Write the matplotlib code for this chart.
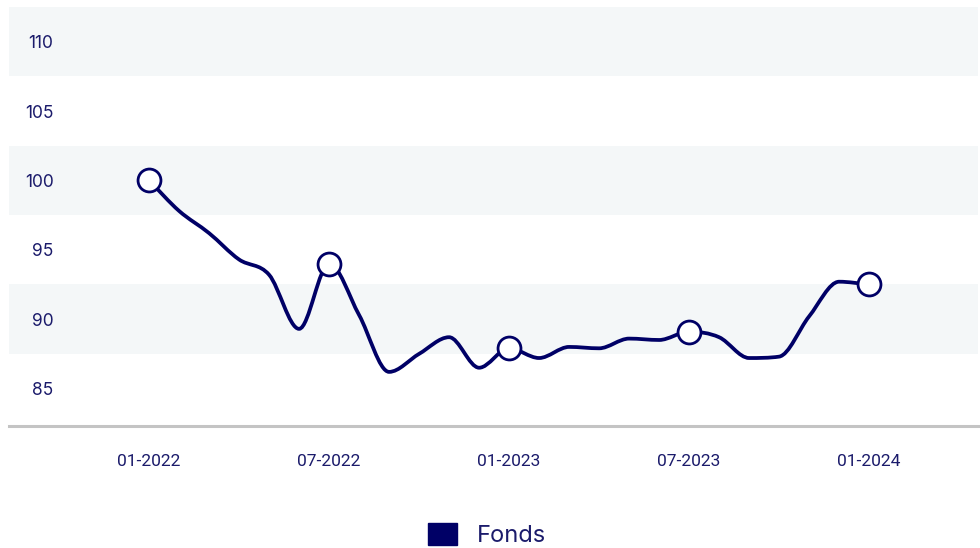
import numpy as np
import matplotlib
matplotlib.use("Agg")
import matplotlib.pyplot as plt
from matplotlib.path import Path
from matplotlib.patches import PathPatch, Patch

# === DADOS ===
mois = list(range(25))  # 01-2022 .. 01-2024, mensal
fonds = [100.0, 97.8, 96.2, 94.3, 93.2, 89.3, 94.0, 90.3, 86.2, 87.5, 88.7, 86.5,
         87.9, 87.2, 88.0, 87.9, 88.6, 88.5, 89.1, 88.7, 87.2, 87.3, 90.2, 92.7, 92.5]
marq_idx = [0, 6, 12, 18, 24]
tick_pos = [0, 6, 12, 18, 24]
tick_lbl = ["01-2022", "07-2022", "01-2023", "07-2023", "01-2024"]
y_ticks = [85, 90, 95, 100, 105, 110]
bandes = [(87.5, 92.5), (97.5, 102.5), (107.5, 112.5)]

NAVY = "#000066"
TXT = "#1b1b6b"


def tangentes_monotones(x, y):
    """Tangentes Fritsch-Carlson (interpolação monotona, como no chart.js)."""
    x = np.asarray(x, float)
    y = np.asarray(y, float)
    d = np.diff(y) / np.diff(x)
    m = np.zeros_like(y)
    m[0], m[-1] = d[0], d[-1]
    for i in range(1, len(y) - 1):
        if d[i - 1] * d[i] <= 0:
            m[i] = 0
        else:
            m[i] = (d[i - 1] + d[i]) / 2
    for i in range(len(d)):
        if d[i] == 0:
            m[i] = m[i + 1] = 0
            continue
        a, b = m[i] / d[i], m[i + 1] / d[i]
        s = a * a + b * b
        if s > 9:
            t = 3 / np.sqrt(s)
            m[i], m[i + 1] = t * a * d[i], t * b * d[i]
    return m


def caminho_suave(x, y):
    m = tangentes_monotones(x, y)
    verts = [(x[0], y[0])]
    codes = [Path.MOVETO]
    for i in range(len(x) - 1):
        h = (x[i + 1] - x[i]) / 3
        verts += [(x[i] + h, y[i] + m[i] * h),
                  (x[i + 1] - h, y[i + 1] - m[i + 1] * h),
                  (x[i + 1], y[i + 1])]
        codes += [Path.CURVE4] * 3
    return Path(verts, codes)


plt.rcParams['font.family'] = ['Inter', 'DejaVu Sans']

fig = plt.figure(figsize=(9.8, 5.48), dpi=100)
ax = fig.add_axes([9 / 980, (548 - 426) / 548, 969 / 980, 419 / 548])

for lo, hi in bandes:
    ax.axhspan(lo, hi, color="#f4f7f8", lw=0, zorder=0)

ax.add_patch(PathPatch(caminho_suave(mois, fonds), fill=False, edgecolor=NAVY,
                       lw=2.7, capstyle="round", joinstyle="round", zorder=3))
ax.plot([mois[i] for i in marq_idx], [fonds[i] for i in marq_idx], "o", ls="none",
        ms=16.5, mfc="white", mec=NAVY, mew=2.0, zorder=4)

ax.set_xlim(-4.67, 27.63)
ax.set_ylim(82.3, 112.5)

ax.set_yticks(y_ticks)
ax.set_yticklabels([str(v) for v in y_ticks])
ax.tick_params(axis="y", length=0, pad=-32, labelsize=12.5, labelcolor=TXT)
for t in ax.get_yticklabels():
    t.set_horizontalalignment("right")

ax.set_xticks(tick_pos)
ax.set_xticklabels(tick_lbl, family=["Roboto", "DejaVu Sans"])
ax.tick_params(axis="x", length=0, pad=20, labelsize=12.5, labelcolor=TXT)

for s in ["top", "right", "left"]:
    ax.spines[s].set_visible(False)
ax.spines["bottom"].set_color("#c4c4c4")
ax.spines["bottom"].set_linewidth(2.2)

fig.legend(handles=[Patch(facecolor=NAVY, edgecolor=NAVY, label="Fonds")],
           loc="center", bbox_to_anchor=(487 / 980, (548 - 535) / 548),
           frameon=False, fontsize=17, handlelength=1.2, handleheight=1.05,
           handletextpad=0.85, labelcolor=TXT)

fig.savefig("out.png", dpi=100)
